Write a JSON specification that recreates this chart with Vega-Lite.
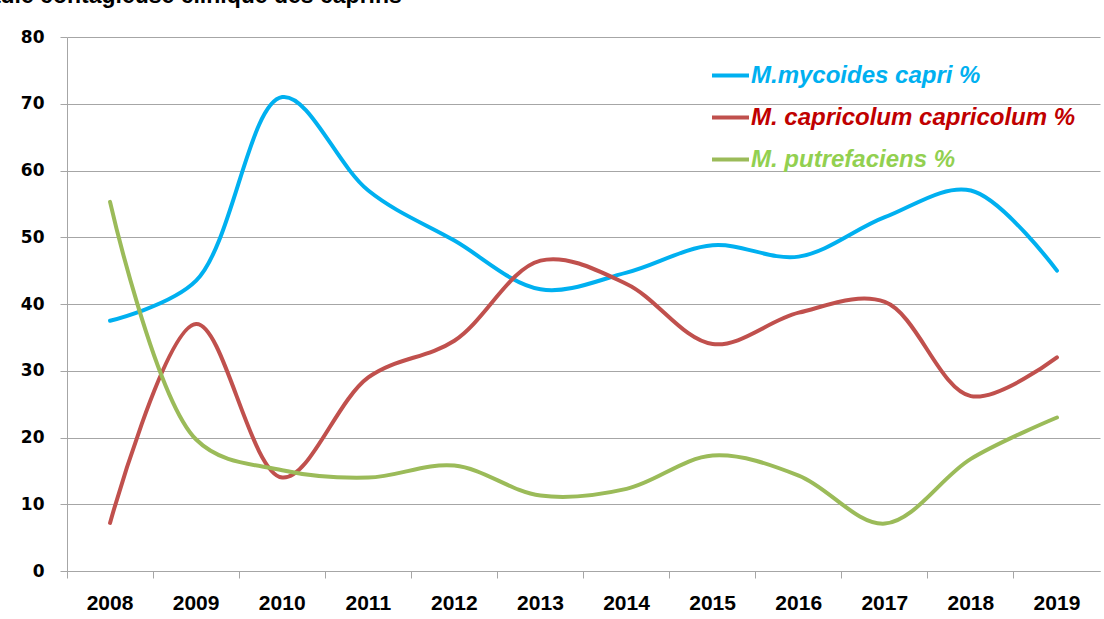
{
  "$schema": "https://vega.github.io/schema/vega-lite/v6.json",
  "width": 1033,
  "height": 534,
  "autosize": {"type": "none"},
  "padding": {"left": 67, "top": 37, "right": 4, "bottom": 48},
  "background": "white",
  "title": {
    "text": "Maladie contagieuse clinique des caprins",
    "anchor": "start",
    "font": "Liberation Sans",
    "fontSize": 23,
    "fontWeight": "bold",
    "color": "#000000",
    "baseline": "alphabetic",
    "offset": 0,
    "dy": -2,
    "dx": -71
  },
  "config": {
    "view": {"stroke": null},
    "axis": {"gridColor": "#a6a6a6", "domainColor": "#a6a6a6", "tickColor": "#a6a6a6", "labelColor": "#000000"}
  },
  "data": {
    "values": [
      {"year": "2008", "series": "M.mycoides capri %", "value": 37.5},
      {"year": "2009", "series": "M.mycoides capri %", "value": 43.5},
      {"year": "2010", "series": "M.mycoides capri %", "value": 71},
      {"year": "2011", "series": "M.mycoides capri %", "value": 57},
      {"year": "2012", "series": "M.mycoides capri %", "value": 49.5},
      {"year": "2013", "series": "M.mycoides capri %", "value": 42.2},
      {"year": "2014", "series": "M.mycoides capri %", "value": 44.7},
      {"year": "2015", "series": "M.mycoides capri %", "value": 48.8},
      {"year": "2016", "series": "M.mycoides capri %", "value": 47.1},
      {"year": "2017", "series": "M.mycoides capri %", "value": 53},
      {"year": "2018", "series": "M.mycoides capri %", "value": 57},
      {"year": "2019", "series": "M.mycoides capri %", "value": 45},
      {"year": "2008", "series": "M. capricolum capricolum %", "value": 7.2},
      {"year": "2009", "series": "M. capricolum capricolum %", "value": 37},
      {"year": "2010", "series": "M. capricolum capricolum %", "value": 14},
      {"year": "2011", "series": "M. capricolum capricolum %", "value": 29},
      {"year": "2012", "series": "M. capricolum capricolum %", "value": 34.5},
      {"year": "2013", "series": "M. capricolum capricolum %", "value": 46.5},
      {"year": "2014", "series": "M. capricolum capricolum %", "value": 43},
      {"year": "2015", "series": "M. capricolum capricolum %", "value": 34},
      {"year": "2016", "series": "M. capricolum capricolum %", "value": 38.7},
      {"year": "2017", "series": "M. capricolum capricolum %", "value": 40.3},
      {"year": "2018", "series": "M. capricolum capricolum %", "value": 26.2},
      {"year": "2019", "series": "M. capricolum capricolum %", "value": 32},
      {"year": "2008", "series": "M. putrefaciens %", "value": 55.3},
      {"year": "2009", "series": "M. putrefaciens %", "value": 19.7},
      {"year": "2010", "series": "M. putrefaciens %", "value": 15.1},
      {"year": "2011", "series": "M. putrefaciens %", "value": 14},
      {"year": "2012", "series": "M. putrefaciens %", "value": 15.8},
      {"year": "2013", "series": "M. putrefaciens %", "value": 11.3},
      {"year": "2014", "series": "M. putrefaciens %", "value": 12.3},
      {"year": "2015", "series": "M. putrefaciens %", "value": 17.3},
      {"year": "2016", "series": "M. putrefaciens %", "value": 14.3},
      {"year": "2017", "series": "M. putrefaciens %", "value": 7.1},
      {"year": "2018", "series": "M. putrefaciens %", "value": 16.8},
      {"year": "2019", "series": "M. putrefaciens %", "value": 23}
    ]
  },
  "mark": {"type": "line", "interpolate": "catmull-rom", "strokeWidth": 4, "strokeCap": "round"},
  "encoding": {
    "x": {
      "field": "year",
      "type": "ordinal",
      "bandPosition": 0.5,
      "scale": {"type": "band", "paddingInner": 0, "paddingOuter": 0},
      "axis": {
        "title": null,
        "labelAngle": 0,
        "bandPosition": 0,
        "grid": false,
        "ticks": true,
        "tickSize": 7,
        "labelPadding": 14,
        "labelFont": "Liberation Sans",
        "labelFontSize": 21,
        "labelFontWeight": "bold",
        "labelBaseline": "top"
      }
    },
    "y": {
      "field": "value",
      "type": "quantitative",
      "scale": {"domain": [0, 80], "nice": false},
      "axis": {
        "title": null,
        "values": [0, 10, 20, 30, 40, 50, 60, 70, 80],
        "grid": true,
        "domain": true,
        "tickSize": 7,
        "labelPadding": 16,
        "labelFont": "DejaVu Sans",
        "labelFontSize": 17,
        "labelFontWeight": "bold"
      }
    },
    "color": {
      "field": "series",
      "type": "nominal",
      "sort": ["M.mycoides capri %", "M. capricolum capricolum %", "M. putrefaciens %"],
      "scale": {
        "domain": ["M.mycoides capri %", "M. capricolum capricolum %", "M. putrefaciens %"],
        "range": ["#00B0F0", "#C0504D", "#9BBB59"]
      },
      "legend": {
        "title": null,
        "orient": "none",
        "legendX": 643,
        "legendY": 18,
        "symbolType": "stroke",
        "symbolSize": 1369,
        "symbolStrokeWidth": 4,
        "labelOffset": 0,
        "labelFont": "Liberation Sans",
        "labelFontSize": 24,
        "labelFontStyle": "italic",
        "labelFontWeight": "bold",
        "labelLimit": 400,
        "rowPadding": 9,
        "encode": {
          "labels": {
            "update": {
              "fill": {"signal": "datum.value === 'M.mycoides capri %' ? '#00B0F0' : datum.value === 'M. putrefaciens %' ? '#92D050' : '#C00000'"}
            }
          }
        }
      }
    }
  }
}
